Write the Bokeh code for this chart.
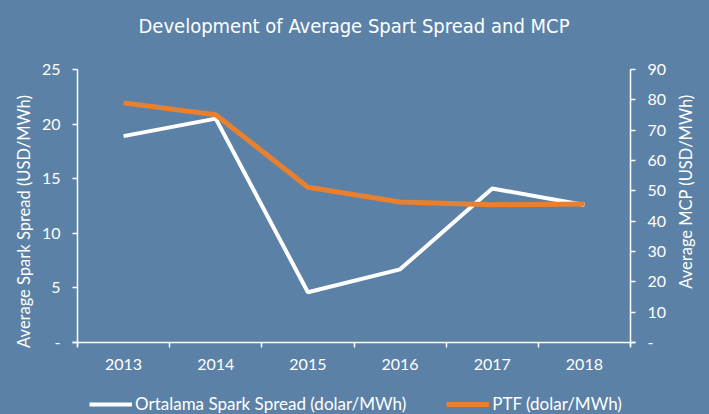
import math
from bokeh.plotting import figure
from bokeh.models import (Range1d, LinearAxis, FixedTicker, Legend, LegendItem,
                          ColumnDataSource, Label)
from bokeh.embed import file_html
from bokeh.resources import INLINE

# ---- data ----
years = ["2013", "2014", "2015", "2016", "2017", "2018"]
spark_spread = [18.9, 20.5, 4.6, 6.7, 14.1, 12.6]      # USD/MWh, left axis
ptf = [79.0, 75.1, 51.2, 46.3, 45.4, 45.7]              # USD/MWh, right axis
left_ticks = [0, 5, 10, 15, 20, 25]
right_ticks = [0, 10, 20, 30, 40, 50, 60, 70, 80, 90]
title_text = "Development of Average Spart Spread and MCP"
left_title = "Average Spark Spread (USD/MWh)"
right_title = "Average MCP (USD/MWh)"
legend_labels = ["Ortalama Spark Spread (dolar/MWh)", "PTF (dolar/MWh)"]

BG = "#5b82a6"
ORANGE = "#e8802f"
FONT = "Lato"

# ---- layout: the plotting frame fills the whole canvas; the axes are pinned
# where the reference draws them (pixel positions of the axis box)
W, H = 709, 414
BOX_L, BOX_R, BOX_T, BOX_B = 77, 630, 69, 342
n = len(years)
ppx = (BOX_R - BOX_L) / n                      # pixels per category
x_lo = -0.5 - BOX_L / ppx
x_hi = n - 0.5 + (W - BOX_R) / ppx
ymax_l, ymax_r = left_ticks[-1], right_ticks[-1]
ppl = (BOX_B - BOX_T) / ymax_l
ppr = (BOX_B - BOX_T) / ymax_r

xs = list(range(n))
src = ColumnDataSource(dict(x=xs, spark=spark_spread, ptf=ptf))

p = figure(width=W, height=H, output_backend="svg", toolbar_location=None,
           x_range=Range1d(x_lo, x_hi),
           y_range=Range1d(-(H - BOX_B) / ppl, ymax_l + BOX_T / ppl),
           background_fill_color=BG, border_fill_color=BG,
           min_border=0)
p.extra_y_ranges = {"mcp": Range1d(-(H - BOX_B) / ppr, ymax_r + BOX_T / ppr)}
p.outline_line_color = None
p.grid.visible = False

def style_axis(ax):
    ax.axis_line_color = "white"
    ax.axis_line_width = 1.5
    ax.major_tick_line_color = "white"
    ax.major_tick_line_width = 1.5
    ax.minor_tick_line_color = None
    ax.major_tick_in = 0
    ax.major_tick_out = 5
    ax.major_label_text_color = "white"
    ax.major_label_text_font = FONT
    ax.major_label_text_font_size = "16px"

# x axis: labels at category centres, ticks at category boundaries
xa = p.xaxis[0]
style_axis(xa)
xa.fixed_location = 0
xa.bounds = (-0.55, n - 0.45)
xa.ticker = FixedTicker(ticks=xs, minor_ticks=[i - 0.5 for i in range(n + 1)])
xa.major_label_overrides = {i: y for i, y in zip(xs, years)}
xa.major_tick_out = 0
xa.minor_tick_line_color = "white"
xa.minor_tick_line_width = 1.5
xa.minor_tick_in = 0
xa.minor_tick_out = 5
xa.major_label_standoff = 11

ya = p.yaxis[0]
style_axis(ya)
ya.fixed_location = -0.5
ya.bounds = (-0.3, ymax_l)
ya.ticker = FixedTicker(ticks=left_ticks)
ya.major_label_overrides = {0: "-"}
ya.major_label_standoff = 12

ra = LinearAxis(y_range_name="mcp", ticker=FixedTicker(ticks=right_ticks))
style_axis(ra)
ra.fixed_location = n - 0.5
ra.bounds = (-1, ymax_r)
ra.major_label_overrides = {0: "-"}
ra.major_label_standoff = 12
p.add_layout(ra, "right")

# texts (screen units: offsets from the frame's bottom-left corner = canvas bottom-left)
p.add_layout(Label(text=title_text, x=353.5, y=H - 25, x_units="screen", y_units="screen",
                   text_align="center", text_baseline="middle",
                   text_color="white", text_font="DejaVu Sans Condensed",
                   text_font_size="20px"))
p.add_layout(Label(text=left_title, x=23, y=H - 221, x_units="screen", y_units="screen",
                   angle=math.pi / 2, text_align="center", text_baseline="middle",
                   text_color="white", text_font=FONT, text_font_size="16.5px"))
p.add_layout(Label(text=right_title, x=685, y=H - 191, x_units="screen", y_units="screen",
                   angle=math.pi / 2, text_align="center", text_baseline="middle",
                   text_color="white", text_font=FONT, text_font_size="16.5px"))

r1 = p.line("x", "spark", source=src, line_color="white", line_width=4)
r2 = p.line("x", "ptf", source=src, y_range_name="mcp", line_color=ORANGE, line_width=5)

legend = Legend(items=[LegendItem(label=legend_labels[0], renderers=[r1]),
                       LegendItem(label=legend_labels[1], renderers=[r2])],
                orientation="horizontal", location=(89, 0),
                background_fill_alpha=0, border_line_color=None,
                label_text_color="white", label_text_font=FONT,
                label_text_font_size="17px", glyph_width=43, glyph_height=16,
                label_standoff=3, spacing=40, padding=0, margin=0)
p.add_layout(legend)

open("out.html", "w").write(file_html(p, INLINE).replace(
    "<head>", "<head><style>html,body{background:#5b82a6;}</style>", 1))
